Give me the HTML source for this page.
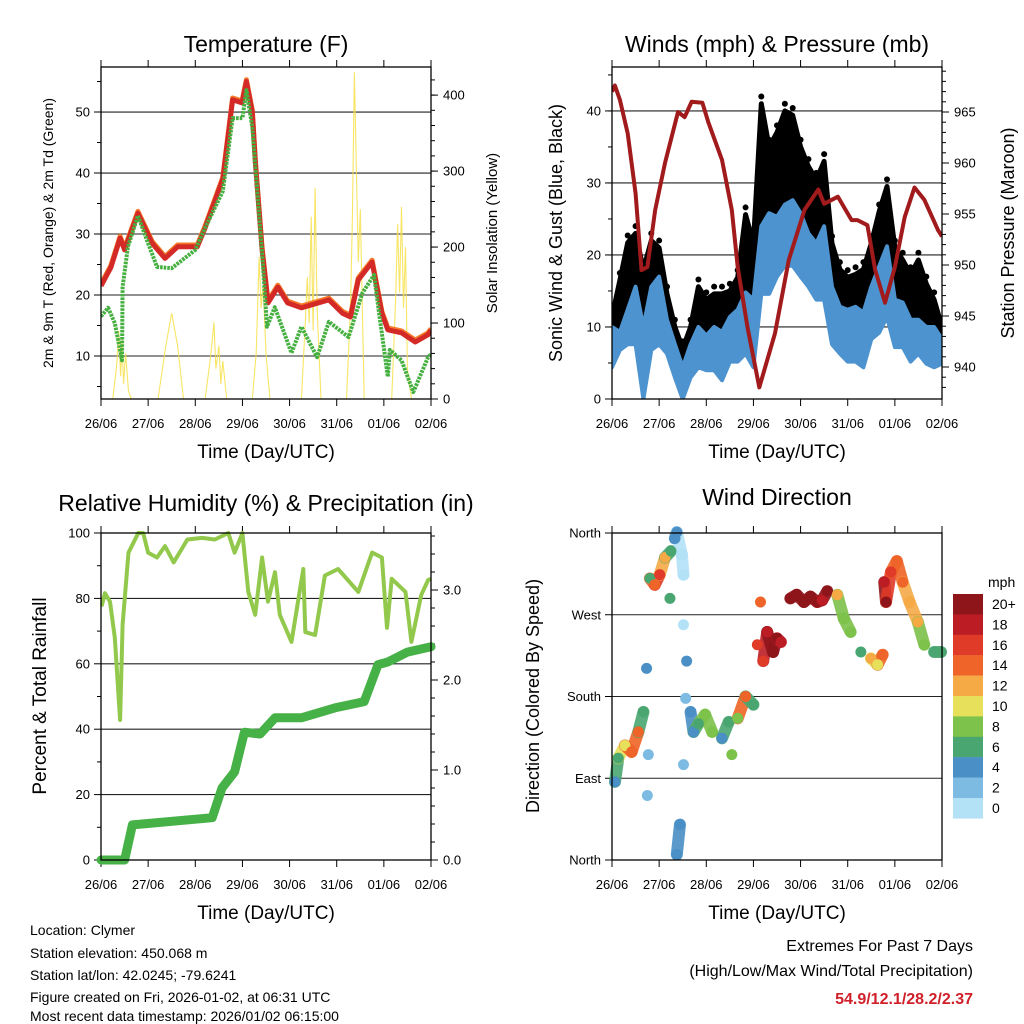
<!DOCTYPE html>
<html><head><meta charset="utf-8"><style>
body{margin:0;background:#fff}
svg{display:block;font-family:"Liberation Sans",sans-serif}
</style></head><body>
<svg id="s" width="1024" height="1024" viewBox="0 0 1024 1024" xmlns="http://www.w3.org/2000/svg">
<g id="txt">
<text x="266" y="52" font-size="23" text-anchor="middle">Temperature (F)</text>
<text x="777" y="52" font-size="23" text-anchor="middle">Winds (mph) &amp; Pressure (mb)</text>
<text x="266" y="511" font-size="23" text-anchor="middle">Relative Humidity (%) &amp; Precipitation (in)</text>
<text x="777" y="505" font-size="23" text-anchor="middle">Wind Direction</text>
<text x="266" y="458" font-size="19" text-anchor="middle">Time (Day/UTC)</text>
<text x="777" y="458" font-size="19" text-anchor="middle">Time (Day/UTC)</text>
<text x="266" y="919" font-size="19" text-anchor="middle">Time (Day/UTC)</text>
<text x="777" y="919" font-size="19" text-anchor="middle">Time (Day/UTC)</text>
<text transform="translate(53,233) rotate(-90)" font-size="14" text-anchor="middle">2m &amp; 9m T (Red, Orange) &amp; 2m Td (Green)</text>
<text transform="translate(497,233) rotate(-90)" font-size="15" text-anchor="middle">Solar Insolation (Yellow)</text>
<text transform="translate(562,233) rotate(-90)" font-size="18" text-anchor="middle">Sonic Wind &amp; Gust (Blue, Black)</text>
<text transform="translate(1014,233) rotate(-90)" font-size="18" text-anchor="middle">Station Pressure (Maroon)</text>
<text transform="translate(46,696) rotate(-90)" font-size="19" text-anchor="middle">Percent &amp; Total Rainfall</text>
<text transform="translate(539,696) rotate(-90)" font-size="18" text-anchor="middle">Direction (Colored By Speed)</text>
<text x="988" y="587" font-size="14">mph</text>
<g font-size="14">
<text x="30" y="935">Location: Clymer</text>
<text x="30" y="958">Station elevation: 450.068 m</text>
<text x="30" y="980">Station lat/lon: 42.0245; -79.6241</text>
<text x="30" y="1002">Figure created on Fri, 2026-01-02, at 06:31 UTC</text>
<text x="30" y="1024" dy="-3">Most recent data timestamp: 2026/01/02 06:15:00</text>
</g>
<text x="973" y="951" font-size="16" text-anchor="end">Extremes For Past 7 Days</text>
<text x="973" y="976" font-size="16" text-anchor="end">(High/Low/Max Wind/Total Precipitation)</text>
<text x="973" y="1004" font-size="16" font-weight="bold" fill="#d0202a" text-anchor="end">54.9/12.1/28.2/2.37</text>
</g>
</svg>
<script>
// ---- data (hours since 26/06 00 UTC) ----
const dayLabels=["26/06","27/06","28/06","29/06","30/06","31/06","01/06","02/06"];
const tempHours=[0,5,9.7,12,18.8,26,32.6,39,49,53,62,67,71.8,74,77,78.6,82,85,90,95,102,116,123,127,131,138,143,146,153,160,166.5,168];
const tempValues=[21.5,24.5,29.3,27.4,33.4,28.5,26,27.9,27.9,31,39,52,51.5,55,50,41.6,27.4,18.7,21.3,18.7,17.9,19.2,17,16.4,22.5,25.4,17,14.3,13.8,12.3,13.5,14.2];
const dewHours=[0,3.6,7,10.7,11,13.7,18.8,24,28.5,36,48,53,62,67,72,74,77,82,84.5,88.5,97,102,110,116,126,133,139,141.6,146,147,153,159,166.5,168];
const dewValues=[16.5,17.9,15.4,9.3,21.3,27.9,33,28.5,24.6,24.4,27.4,31,37,49,49,53.6,47.5,26.9,14.8,18,10.5,14.8,9.8,15.6,13.1,20.3,23.3,17,6.6,11,9.3,4.1,9.8,10.3];
const solarHours=[6,8,9,10,10.7,11.5,12.5,14,15.5,29,33,36,39,42,53,56,57.5,58.5,60,61,62,64,77,79,80.5,81.5,82.5,84,86,102,104,105,106,107,108,109,110,112,125,127,128,129,130,131,132,134,148,150,151,152,153,154,155,156,158];
const solarValues=[0,45,90,30,78,20,60,10,0,0,70,113,70,0,0,60,101,40,70,20,50,0,0,60,187,120,150,60,0,0,100,160,100,240,90,278,120,0,0,120,240,430,300,180,250,0,0,130,230,140,253,120,200,40,0];
const presHours=[0,1.5,4,8,12,15,18,22,27,33.6,37,40.5,46,49,56,61,64,69,75,83,90,98,105,108,115,122,125,130,134,139,144,149,154,159,166,168];
const presValues=[967,967.6,966.2,962.9,957,949.5,949.8,955.4,960,965,964.5,966,965.9,964,960.3,955.4,949.8,943.9,938,943.3,950.5,955.4,957.4,956,956.7,954.4,954.4,953.9,949.5,946.3,949.8,954.7,957.6,956.4,953.4,952.8];
const windHours=[0,4,8,12,16,20,24,28,32,36,40,44,48,52,56,60,64,68,72,76,80,84,88,92,96,100,104,108,112,116,120,124,128,132,136,140,144,148,152,156,160,164,168];
const windLow=[4.4,6.8,7.6,7.6,0,6.8,7.6,6.3,3,0,3,4.4,4,4,2.6,5.2,5.2,6.3,4.4,14.6,14.6,17,18.5,18.5,17,15.6,13.8,13.8,7.6,6.3,5.2,5.2,4.4,8.3,9.2,11.4,7.2,7.2,5.2,6.3,4.9,4.4,4.9];
const windHigh=[10,9.3,12.4,15.6,10,15.6,17,11,7.6,4.4,7.6,10,8.8,10,9.3,11.4,12.4,14.8,13.8,24,25.8,25.3,27,27.6,25.8,23,21.6,24,15.6,12.8,12.4,12.8,12,15.6,18.4,21.2,13.8,13.4,11,11,10,10,8.3];
const gustValues=[11.4,16.5,21.7,23,18,22,21,14.6,10,7,10,15.6,13.8,14.6,14.6,15,16.9,25.6,21.6,41,35,37,40,39.4,35,32.3,30.4,33,21.6,18,16.9,17.3,18,21.6,26,29.5,21,19.3,17.3,19.3,16,13.8,10];
const rhHours=[0,0.5,2,4.6,7,9.7,11,14,19,21.5,24,28.5,32.6,37,44,51.4,58,64.8,68,72,75,78.5,82,85,88.6,91,97,103,104,109,114,120.7,131,138,143,145.6,148,155,158,163,166.5,168];
const rhValues=[78,78,81.6,79,68,42.8,72,94,100,100,94,92.5,96,91,98,98.5,98,100,94,100,82,75,92.5,79,88,75,66.7,89,69.7,68.8,87,89,82,94,92.5,71,86,82,66.7,81,85.6,86];
const precipHours=[0,12,16,56.6,61.6,68,73,81,88.6,102,119,134,141,146,156,168];
const precipValues=[0,0,0.39,0.47,0.8,0.98,1.42,1.4,1.58,1.58,1.69,1.76,2.17,2.2,2.31,2.37];
const dirHours=[1.5,3.2,6.6,10,13.4,16,17.6,18.5,18,19.3,21.8,24.3,27,30,29.5,32,33,35.6,36.4,36.4,38,37.5,36.4,34.6,33,40,41.5,44,47.4,51,56,59.4,61,64,68,72,74,75.6,77,79,82,84,86,90.8,94,97.7,101,104.5,107,109.6,114.7,118,121.5,126.7,131.8,135.2,137.8,138.6,139.5,142,145,148,151.5,155.7,159,164,167.5];
const dirValues=[86,112,126,119,141,163,211,116,71,310,303,314,333,340,288,354,361,336,314,259,219,178,105,39,6,163,141,150,160,141,134,152,116,156,180,171,237,284,219,251,229,244,240,288,292,284,290,284,286,296,292,266,251,229,222,215,226,306,284,317,329,306,284,262,237,229,229];
const dirSpeeds=[4,6,10,14,14,6,4,2,2,6,14,16,12,6,6,4,4,0,0,0,4,2,2,4,4,4,4,6,8,8,4,6,8,8,14,6,16,14,16,18,20,20,18,20,20,20,20,20,18,20,12,8,8,6,12,10,14,18,20,16,14,14,12,12,8,6,6];
const cbLabels=["20+","18","16","14","12","10","8","6","4","2","0"];
const cbColors=["#8e1519","#bc1c24","#e03a28","#ef6428","#f6aa46","#e6e05a","#7dc24b","#4aa671","#4a8fc5","#7ebbe3","#b3e2f7"];

const NS="http://www.w3.org/2000/svg", S=document.getElementById('s');
function el(t,a,p){const e=document.createElementNS(NS,t);for(const k in a)e.setAttribute(k,a[k]);(p||S).appendChild(e);return e;}
function lin(d0,d1,r0,r1){return v=>r0+(v-d0)/(d1-d0)*(r1-r0);}
function grp(name){const g=el('g',{});return g;}
function pathD(xs,ys,fx,fy){return xs.map((h,i)=>(i?'L':'M')+fx(h).toFixed(1)+','+fy(ys[i]).toFixed(1)).join('');}

function frame(P,name,left,right){
  const g=grp(name+'-axes');
  const fx=lin(0,168,P.x0,P.x1);
  left.major.forEach(v=>{const y=left.f(v);if(y>P.y0+1&&y<P.y1-1){const l=el('line',{x1:P.x0,x2:P.x1,y1:y,y2:y,stroke:'#222','stroke-width':1.1},g);}});
  for(let d=0;d<=7;d++){const x=fx(d*24);
    el('line',{x1:x,x2:x,y1:P.y1,y2:P.y1+7,stroke:'#000','stroke-width':1},g);
    el('line',{x1:x,x2:x,y1:P.y0,y2:P.y0-7,stroke:'#000','stroke-width':1},g);
    const t=el('text',{x:x,y:P.y1+29,'font-size':13,'text-anchor':'middle'},g);t.textContent=dayLabels[d];
    }
  left.minor.forEach(v=>{const y=left.f(v);el('line',{x1:P.x0,x2:P.x0-4,y1:y,y2:y,stroke:'#000','stroke-width':1},g);});
  left.major.forEach((v,i)=>{const y=left.f(v);el('line',{x1:P.x0,x2:P.x0-7,y1:y,y2:y,stroke:'#000','stroke-width':1},g);
    const t=el('text',{x:P.x0-11,y:y+4.5,'font-size':13,'text-anchor':'end'},g);t.textContent=left.labels[i];
    });
  if(right){
    right.minor.forEach(v=>{const y=right.f(v);el('line',{x1:P.x1,x2:P.x1+4,y1:y,y2:y,stroke:'#000','stroke-width':1},g);});
    right.major.forEach((v,i)=>{const y=right.f(v);el('line',{x1:P.x1,x2:P.x1+7,y1:y,y2:y,stroke:'#000','stroke-width':1},g);
      const t=el('text',{x:P.x1+12,y:y+4.5,'font-size':13},g);t.textContent=right.labels[i];
      });
  }
  return {g,fx};
}
function border(P,name){const r=el('rect',{x:P.x0,y:P.y0,width:P.x1-P.x0,height:P.y1-P.y0,fill:'none',stroke:'#000','stroke-width':1.3});}
function rng(a,b,s){const o=[];for(let v=a;v<=b+1e-9;v+=s)o.push(+v.toFixed(3));return o;}

// ---- Panel 1: Temperature ----
{const P={x0:101,x1:431,y0:67,y1:399};
 const fy=lin(0,57.38,417,67), fs=lin(0,437,399,67);
 const {fx}=frame(P,'temp',{f:fy,major:[10,20,30,40,50],labels:["10","20","30","40","50"],minor:rng(5,55,5)},
   {f:fs,major:[0,100,200,300,400],labels:["0","100","200","300","400"],minor:rng(0,420,20)});
 const cp=el('clipPath',{id:'c1'});el('rect',{x:P.x0,y:P.y0,width:P.x1-P.x0,height:P.y1-P.y0},cp);
 const g=grp('temp-series');g.setAttribute('clip-path','url(#c1)');
 const so=el('path',{d:pathD(solarHours,solarValues,fx,fs),fill:'none',stroke:'#f7e04a','stroke-width':1.1,opacity:0.85},g);
 
 const o=el('path',{d:pathD(tempHours,tempValues.map(v=>v+0.3),fx,fy),fill:'none',stroke:'#f47a2a','stroke-width':5,'stroke-linejoin':'round'},g);
 
 const r=el('path',{d:pathD(tempHours,tempValues,fx,fy),fill:'none',stroke:'#d42a27','stroke-width':5,'stroke-linejoin':'round'},g);
 
 const d=el('path',{d:pathD(dewHours,dewValues,fx,fy),fill:'none',stroke:'#45b040','stroke-width':4,'stroke-dasharray':'2.6 1','stroke-linejoin':'round'},g);
 
 border(P,'temp');}

// ---- Panel 2: Winds ----
{const P={x0:612,x1:942,y0:67,y1:399};
 const fy=lin(0,46.1,399,67), fp=lin(940,965,367,112);
 const {fx}=frame(P,'wind',{f:fy,major:[0,10,20,30,40],labels:["0","10","20","30","40"],minor:rng(5,45,5)},
   {f:fp,major:[940,945,950,955,960,965],labels:["940","945","950","955","960","965"],minor:rng(938,969,1)});
 const cp=el('clipPath',{id:'c2'});el('rect',{x:P.x0,y:P.y0,width:P.x1-P.x0,height:P.y1-P.y0},cp);
 const g=grp('wind-series');g.setAttribute('clip-path','url(#c2)');
 const gustArea='M'+windHours.map((h,i)=>fx(h).toFixed(1)+','+fy(gustValues[i]).toFixed(1)).join('L')+'L'+windHours.slice().reverse().map((h,i)=>fx(h).toFixed(1)+','+fy(windLow[windHours.length-1-i]+2).toFixed(1)).join('L')+'Z';
 const ga=el('path',{d:gustArea,fill:'#000',stroke:'#000','stroke-width':5,'stroke-linejoin':'round'},g);
 
 windHours.forEach((h,i)=>{const c=el('circle',{cx:fx(h),cy:fy(gustValues[i]+1),r:3},g);
   });
 const windArea='M'+windHours.map((h,i)=>fx(h).toFixed(1)+','+fy(windHigh[i]).toFixed(1)).join('L')+'L'+windHours.slice().reverse().map((h,i)=>fx(h).toFixed(1)+','+fy(windLow[windHours.length-1-i]).toFixed(1)).join('L')+'Z';
 const wa=el('path',{d:windArea,fill:'#4d93cf',stroke:'#4d93cf','stroke-width':4,'stroke-linejoin':'round'},g);
 
 const p=el('path',{d:pathD(presHours,presValues,fx,fp),fill:'none',stroke:'#a11a1c','stroke-width':4,'stroke-linejoin':'round'},g);
 
 border(P,'wind');}

// ---- Panel 3: RH & precip ----
{const P={x0:101,x1:431,y0:533,y1:860};
 const fy=lin(0,100,860,533), fr=lin(0,1,860,770);
 const {fx}=frame(P,'rh',{f:fy,major:[0,20,40,60,80,100],labels:["0","20","40","60","80","100"],minor:rng(10,90,20)},
   {f:fr,major:[0,1,2,3],labels:["0.0","1.0","2.0","3.0"],minor:rng(0.2,3.6,0.2)});
 const g=grp('rh-series');
 const r=el('path',{d:pathD(rhHours,rhValues,fx,fy),fill:'none',stroke:'#92c94c','stroke-width':4,'stroke-linejoin':'round'},g);
 
 const p=el('path',{d:pathD(precipHours,precipValues,fx,fr),fill:'none',stroke:'#46b146','stroke-width':9,'stroke-linejoin':'round','stroke-linecap':'round'},g);
 
 border(P,'rh');}

// ---- Panel 4: Wind direction ----
{const P={x0:612,x1:942,y0:533,y1:860};
 const fy=lin(0,360,860,533);
 const {fx}=frame(P,'dir',{f:fy,major:[0,90,180,270,360],labels:["North","East","South","West","North"],minor:[]},null);
 const g=grp('direction-series');
 const col=s=>cbColors[10-Math.min(10,Math.round(s/2))];
 for(let i=1;i<dirHours.length;i++){
   if(Math.abs(dirHours[i]-dirHours[i-1])<5&&Math.abs(dirValues[i]-dirValues[i-1])<35){
     const l=el('line',{x1:fx(dirHours[i-1]),y1:fy(dirValues[i-1]),x2:fx(dirHours[i]),y2:fy(dirValues[i]),stroke:col(dirSpeeds[i]),'stroke-width':12,'stroke-linecap':'round',opacity:0.9},g);
     }
 }
 dirHours.forEach((h,i)=>{const c=el('circle',{cx:fx(h),cy:fy(dirValues[i]),r:5.5,fill:col(dirSpeeds[i])},g);
   });
 border(P,'dir');
 const cb=grp('speed-colorbar');
 cbColors.forEach((c,i)=>{const y=594+i*20.4;
   const r=el('rect',{x:953,y:y,width:30,height:20.6,fill:c},cb);
   const t=el('text',{x:992,y:y+15,'font-size':14},cb);t.textContent=cbLabels[i];});
}
</script>
</body></html>
